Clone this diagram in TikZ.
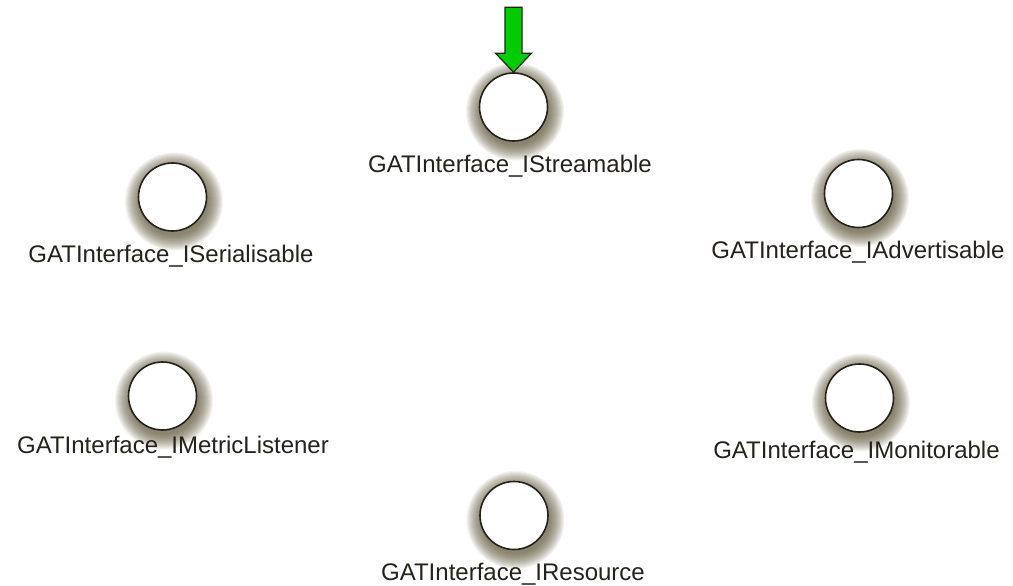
\documentclass[tikz,border=0pt]{standalone}
\usepackage{fontspec}
\setmainfont{Liberation Sans}
\usetikzlibrary{calc}
\definecolor{ink}{RGB}{36,34,26}
\definecolor{glow}{RGB}{80,72,40}
\definecolor{pointer}{RGB}{0,204,0}

\begin{document}
\begin{tikzpicture}[x=1pt,y=-1pt,
    iface/.style={circle,draw=ink,line width=1.6pt,fill=white,minimum size=68pt,inner sep=0pt},
    ifname/.style={anchor=base,font=\fontsize{24}{28}\selectfont,text=ink}]
  \useasboundingbox (0,0) rectangle (1013,586);
  \foreach \n/\cx/\cy/\lx/\ly/\txt in {
      streamable/513.5/107/510/172/IStreamable,
      serialisable/172.5/197/171/262/ISerialisable,
      advertisable/858.5/193.5/858/258/IAdvertisable,
      metriclistener/162.5/396/173/453/IMetricListener,
      monitorable/859.5/398/856.5/458/IMonitorable,
      resource/514/515.5/513/580/IResource}{
    \foreach \r in {1,...,16}
      \fill[glow,opacity=0.065] (\cx+1.5,\cy+4.5) circle [radius=33pt+\r*1pt];
    \node[iface] (\n) at (\cx,\cy) {};
    \node[ifname] (\n-label) at (\lx,\ly) {GATInterface\_\txt};
  }
  % green pointer onto the top interface
  \draw[ink,line width=1.2pt,fill=pointer]
    (streamable.north) -- ++(-18,-19) -- ++(9.5,0) -- ++(0,-46)
    -- ++(17,0) -- ++(0,46) -- ++(9.5,0) -- cycle;
\end{tikzpicture}
\end{document}
